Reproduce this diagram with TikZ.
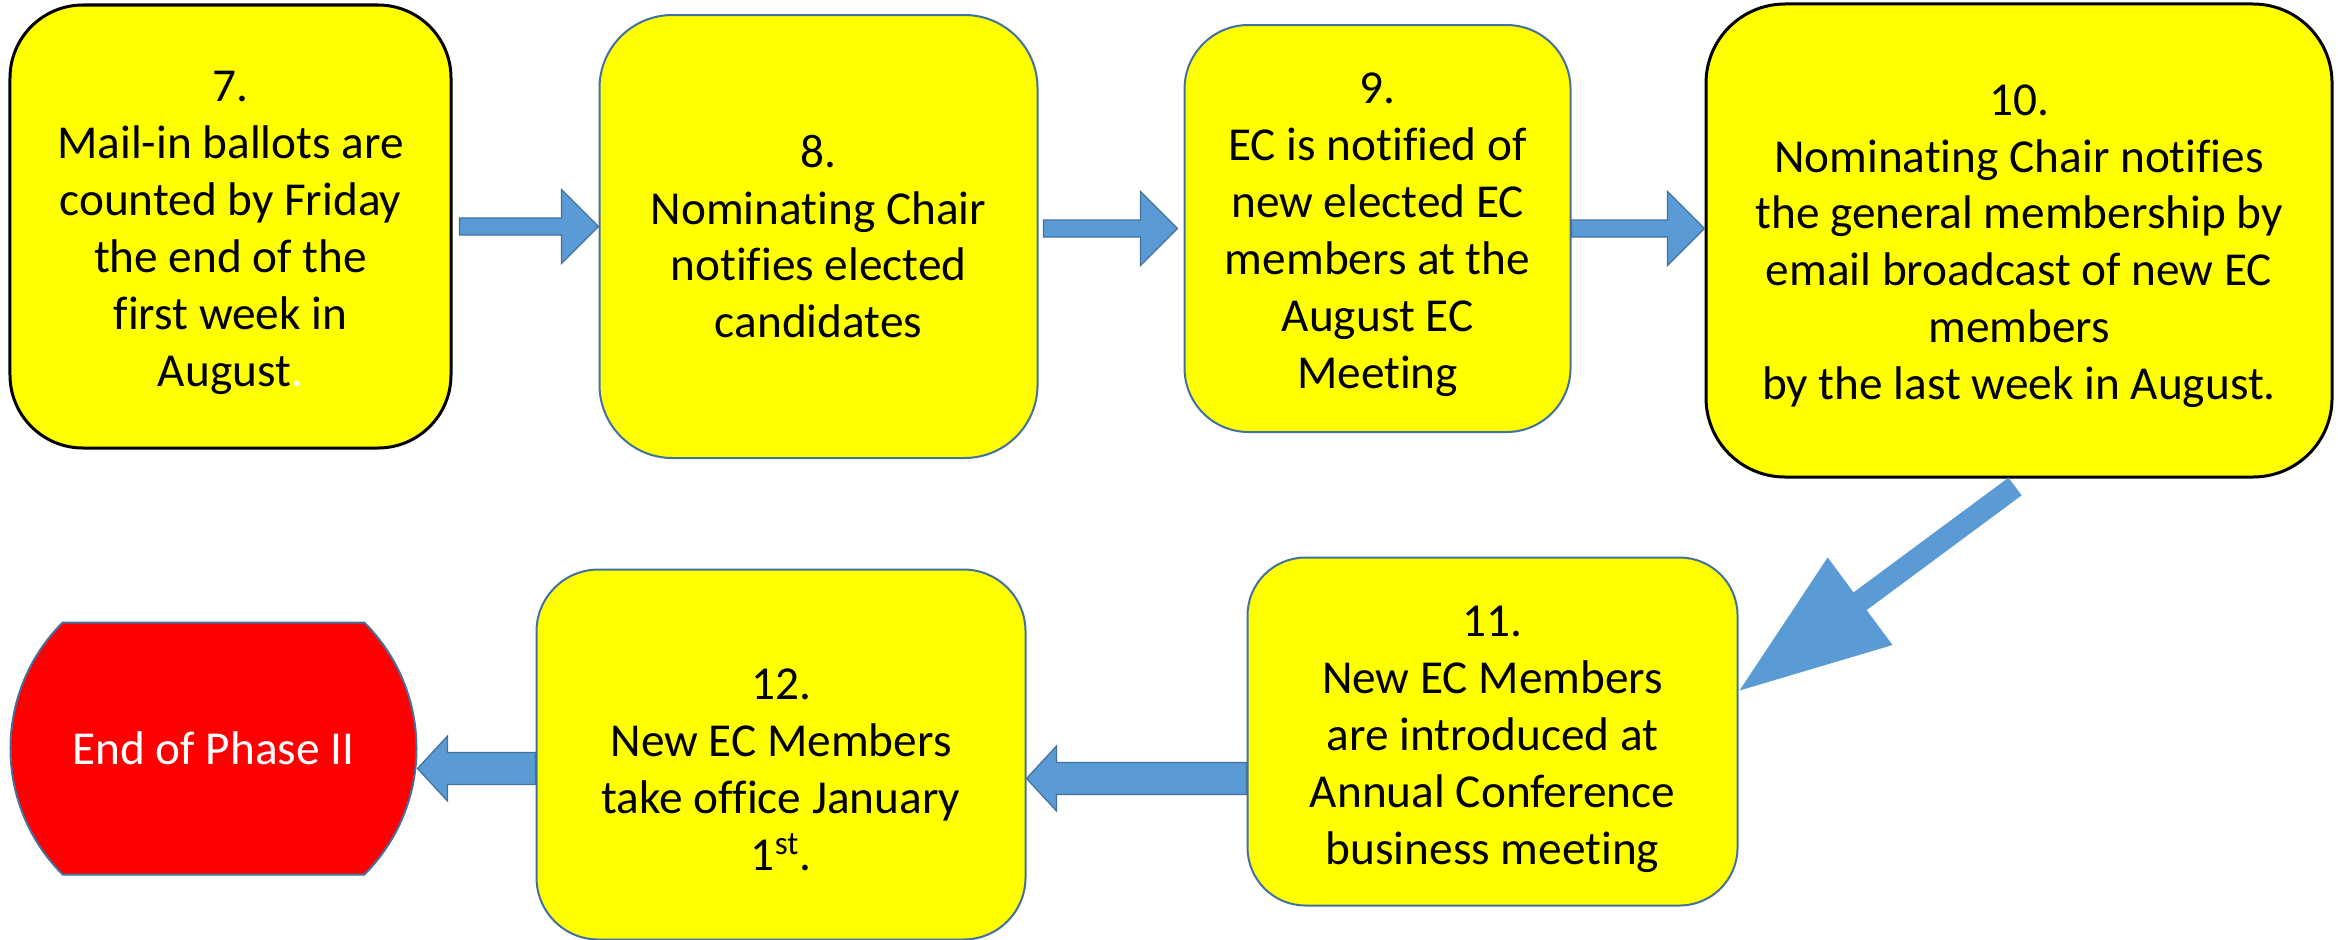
\documentclass[tikz,border=0pt]{standalone}
\usepackage{fontspec}
\setmainfont{Carlito}[Ligatures=CommonOff]
\usepackage{tikz}
\usetikzlibrary{positioning,calc,shapes.misc}
\usepackage{xcolor}
\definecolor{boxyellow}{HTML}{FFFF00}
\definecolor{boxedge}{HTML}{41719C}
\definecolor{arrowblue}{HTML}{5B9BD5}
\definecolor{endred}{HTML}{FF0000}
\newcommand{\stepfont}{\fontsize{26.9}{32.4}\selectfont}
\newcommand{\lift}[1]{\rule{0pt}{#1}}

\begin{document}
\begin{tikzpicture}[x=0.2mm, y=-0.2mm,
  box/.style={draw=boxedge, fill=boxyellow, line width=0.4mm, align=center, font=\stepfont, inner sep=0pt},
  darkbox/.style={box, draw=black, line width=0.6mm},
  endbox/.style={rounded rectangle, rounded rectangle arc length=90, fill=endred, draw=boxedge, line width=0.4mm, text=white, font=\stepfont, inner sep=0pt},
  blockarr/.style n args={3}{to path={
    let \p1=(\tikztostart), \p2=(\tikztotarget), \n1={veclen(\x2-\x1,\y2-\y1)-(#3)} in
    ($(\p1)!#1!90:(\p2)$) -- ($(\p1)!\n1!(\p2)!#1!90:(\p2)$) -- ($(\p1)!\n1!(\p2)!#2!90:(\p2)$) -- (\p2)
    -- ($(\p1)!\n1!(\p2)!#2!-90:(\p2)$) -- ($(\p1)!\n1!(\p2)!#1!-90:(\p2)$) -- ($(\p1)!#1!-90:(\p2)$) -- cycle}},
  toparr/.style={blockarr={1.7mm}{7.4mm}{7.4mm}, fill=arrowblue, draw=boxedge, line width=0.25mm},
  lowarr/.style={blockarr={3.2mm}{6.5mm}{6mm}, fill=arrowblue, draw=boxedge, line width=0.25mm},
  diagarr/.style={blockarr={2.2mm}{10.9mm}{30mm}, fill=arrowblue}]
\useasboundingbox (0,0) rectangle (2338,939);
\node[darkbox, minimum width=88.2mm, minimum height=88.6mm, rounded corners=14.6mm] (b7) at (230.5,226.5)
  {\lift{8.6mm}7.\\Mail-in ballots are\\counted by Friday\\the end of the\\first week in\\August{\color{white}.}};
\node[box, minimum width=87.6mm, minimum height=88.6mm, rounded corners=14.6mm, right=29.2mm of b7, yshift=-2mm] (b8)
  {\lift{6.4mm}8.\\Nominating Chair\\notifies elected\\candidates};
\node[box, minimum width=77.2mm, minimum height=81.4mm, rounded corners=12.8mm, right=29mm of b8, yshift=1.6mm] (b9)
  {\lift{8.6mm}9.\\EC is notified of\\new elected EC\\members at the\\August EC\\Meeting};
\node[darkbox, minimum width=125.2mm, minimum height=94.6mm, rounded corners=15.8mm, right=26.6mm of b9, yshift=-2.4mm] (b10)
  {\lift{8.4mm}10.\\Nominating Chair notifies\\the general membership by\\email broadcast of new EC\\members\\by the last week in August.};
\node[box, minimum width=98mm, minimum height=69.6mm, rounded corners=11.6mm, below=15.6mm of b10.south west, anchor=north east, xshift=6.8mm] (b11)
  {\lift{9.2mm}11.\\New EC Members\\are introduced at\\Annual Conference\\business meeting};
\node[box, minimum width=97.8mm, minimum height=74mm, rounded corners=12.4mm, left=44mm of b11, yshift=-4.6mm] (b12)
  {\lift{12.2mm}12.\\New EC Members\\take office January\\1\textsuperscript{st}.};
\node[endbox, minimum width=81.2mm, minimum height=50.4mm, left=23.6mm of b12, yshift=1.2mm] (end) {End of Phase II};
\draw[toparr] ($(b7.east)+(1.4mm,0)$) to (b7.east -| b8.west);
\draw[toparr] ($(b8.east |- b9.west)+(1mm,0)$) to ($(b9.west)+(-1.2mm,0)$);
\draw[toparr] (b9.east) to (b9.east -| b10.west);
\fill[diagarr] ($(b10.south)+(-0.8mm,-1.6mm)$) to ($(b11.east)+(0.2mm,8.2mm)$);
\draw[lowarr] ($(b11.west)+(0,-9.4mm)$) to ($(b12.east)+(0,-4.8mm)$);
\draw[lowarr] ($(b12.west)+(0,-2.8mm)$) to ($(end.east)+(0,-4mm)$);
\end{tikzpicture}
\end{document}
